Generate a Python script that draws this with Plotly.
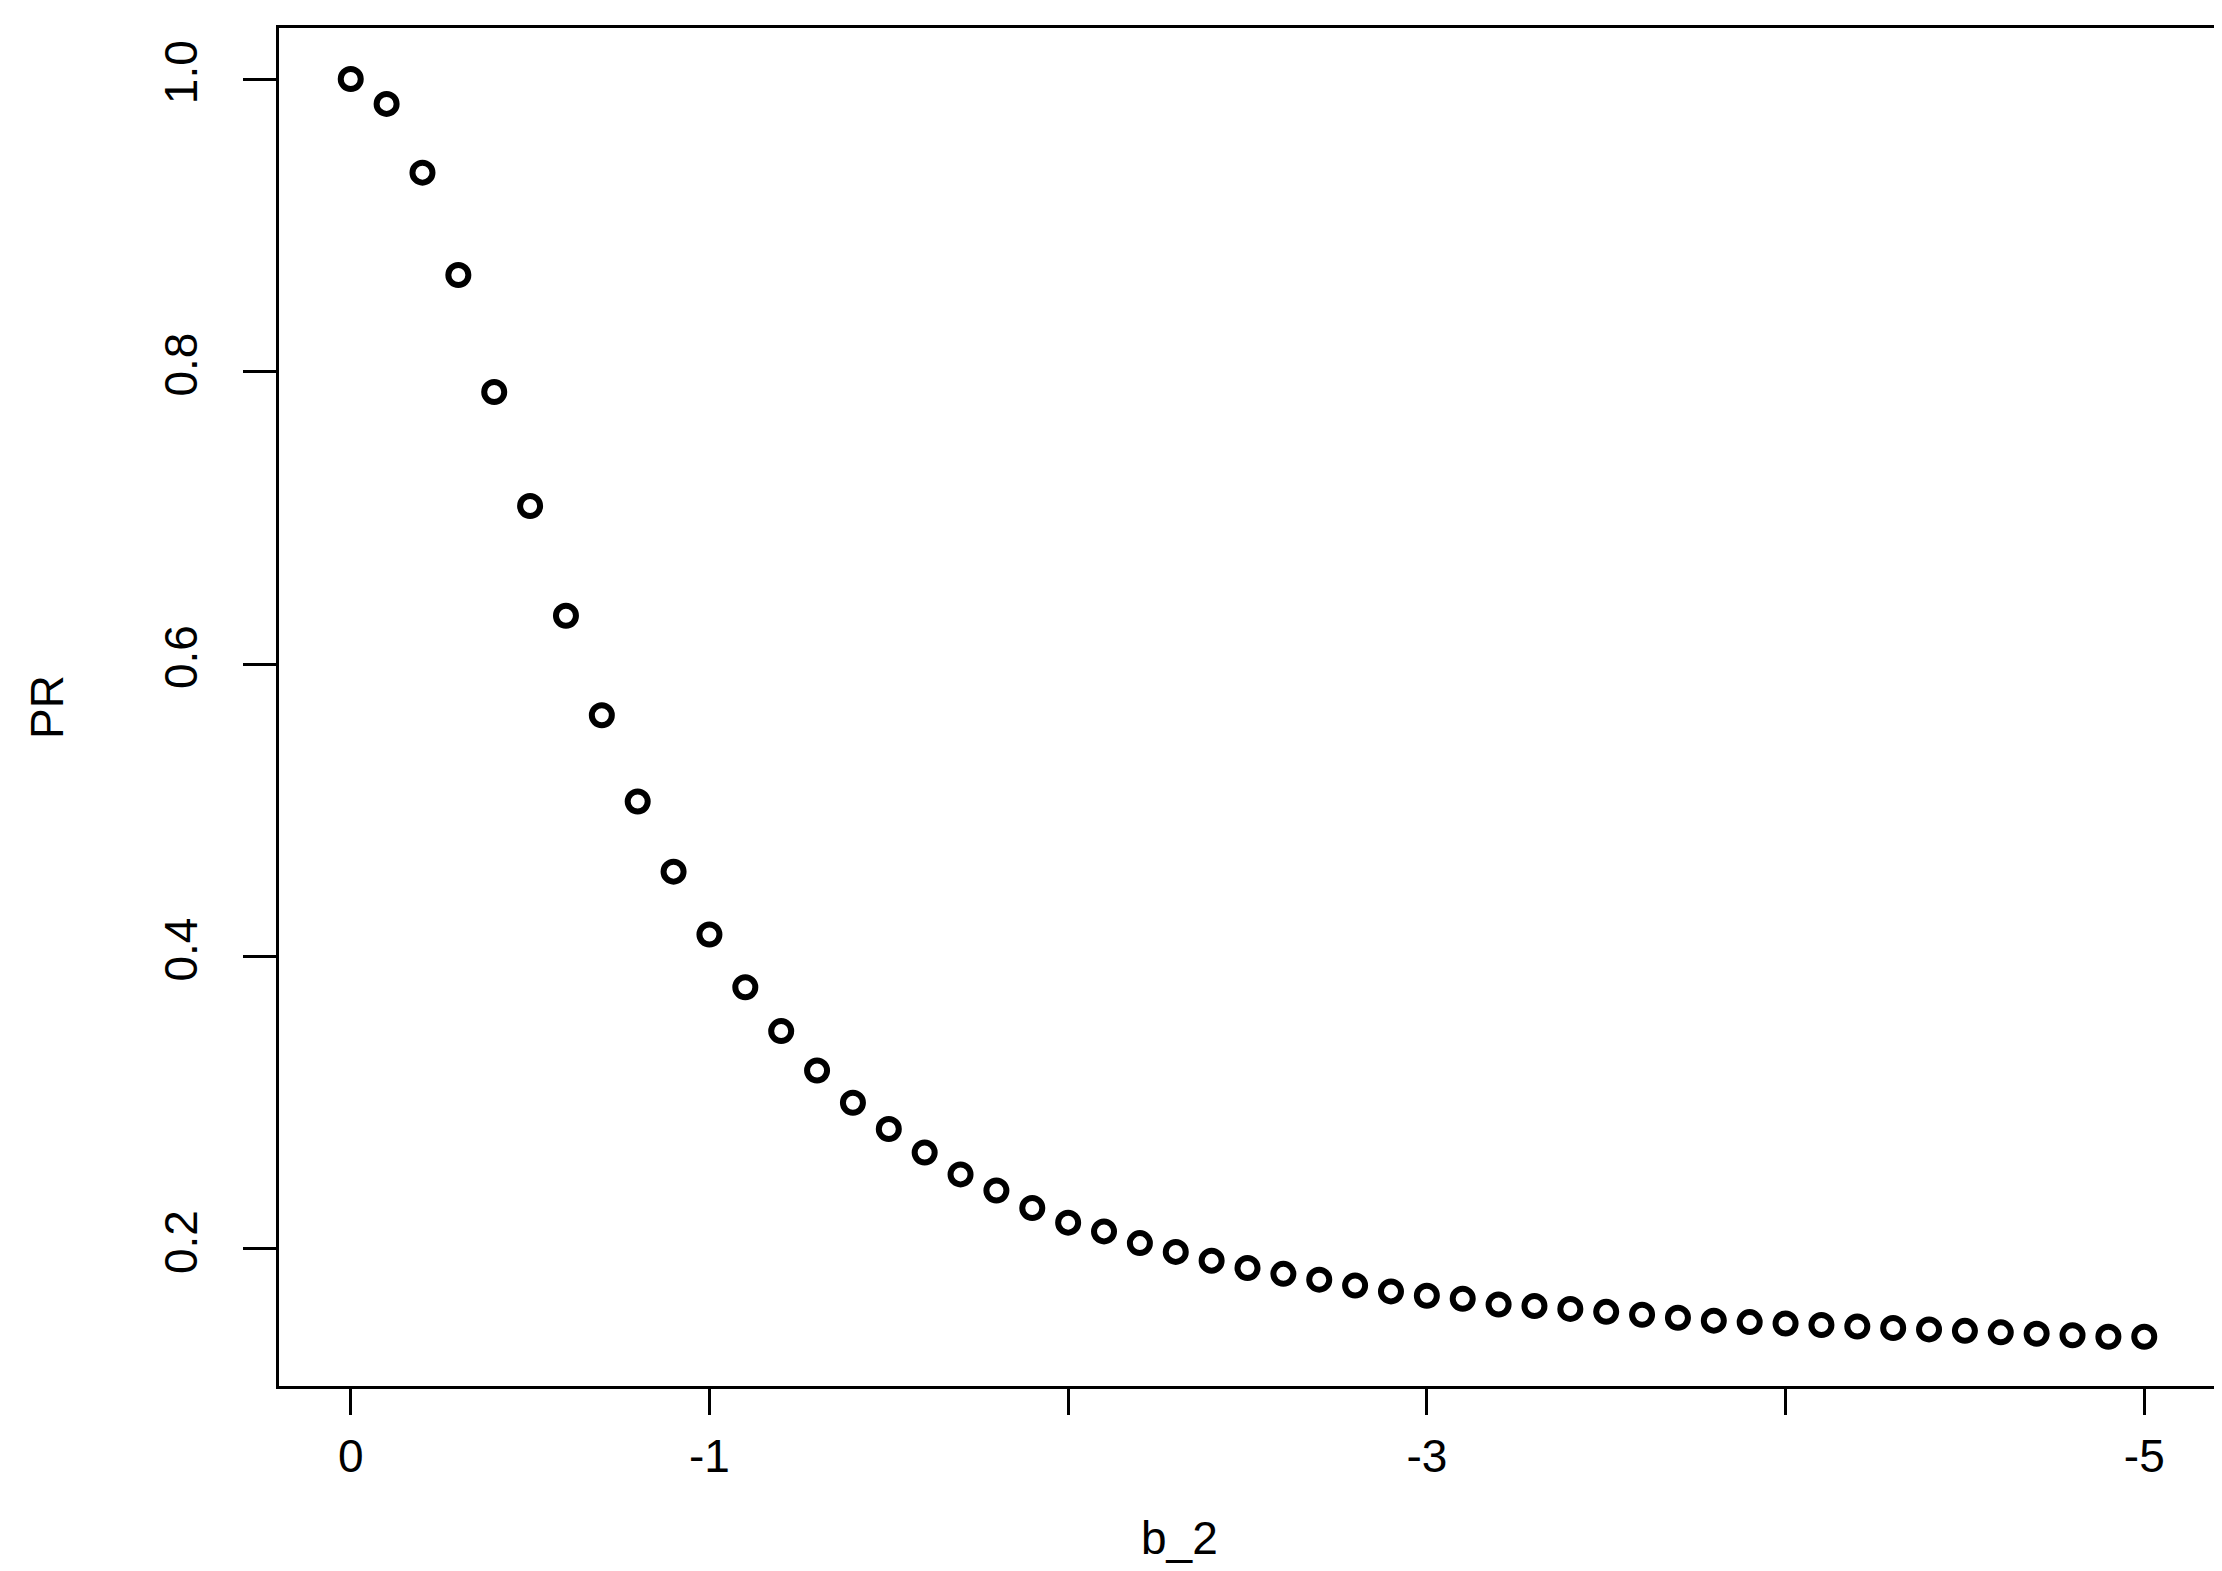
import plotly.graph_objects as go

b_2 = [round(-0.1 * i, 1) for i in range(51)]
PR = [1.000, 0.983, 0.936, 0.866, 0.786, 0.708, 0.633, 0.565, 0.506, 0.458,
      0.415, 0.379, 0.349, 0.322, 0.300, 0.282, 0.266, 0.251, 0.240, 0.228,
      0.218, 0.212, 0.204, 0.198, 0.192, 0.187, 0.183, 0.179, 0.175, 0.171,
      0.168, 0.166, 0.162, 0.161, 0.159, 0.157, 0.155, 0.153, 0.151, 0.150,
      0.149, 0.148, 0.147, 0.146, 0.145, 0.144, 0.143, 0.142, 0.141, 0.140,
      0.140]

x_tickvals = [0, -1, -2, -3, -4, -5]
x_ticktext = ["0", "-1", "", "-3", "", "-5"]
y_tickvals = [0.2, 0.4, 0.6, 0.8, 1.0]
y_ticktext = ["0.2", "0.4", "0.6", "0.8", "1.0"]

FONT = "Liberation Sans, Arial, sans-serif"

fig = go.Figure()
fig.add_trace(go.Scatter(
    x=b_2, y=PR, mode="markers",
    marker=dict(symbol="circle-open", size=20, color="black",
                line=dict(width=6, color="black")),
    showlegend=False,
))

fig.update_layout(
    width=2222, height=1571,
    margin=dict(l=271, r=14, t=20, b=193, autoexpand=False),
    paper_bgcolor="white", plot_bgcolor="white",
    font=dict(family=FONT, size=46, color="black"),
    xaxis=dict(
        range=[0.2, -5.2], tickvals=x_tickvals, ticktext=x_ticktext,
        ticks="outside", ticklen=26, tickwidth=2.5, tickcolor="black",
        showline=True, linecolor="black", linewidth=3, mirror=True,
        showgrid=False, zeroline=False, ticklabelstandoff=2,
        automargin=False, tickfont=dict(size=46),
    ),
    yaxis=dict(
        range=[0.1063, 1.0349], tickvals=y_tickvals, ticktext=y_ticktext,
        ticks="outside", ticklen=33, tickwidth=2.5, tickcolor="black",
        showline=True, linecolor="black", linewidth=3, mirror=True,
        showgrid=False, zeroline=False, tickangle=-90, ticklabelstandoff=28,
        automargin=False, tickfont=dict(size=46),
    ),
    annotations=[
        dict(text="b_2", xref="paper", yref="paper", x=0.465, y=-0.112,
             xanchor="center", yanchor="middle", showarrow=False,
             font=dict(size=46)),
        dict(text="PR", xref="paper", yref="paper", x=-0.1198, y=0.5,
             xanchor="center", yanchor="middle", showarrow=False,
             textangle=-90, font=dict(size=46)),
    ],
)

fig.write_html("out.html")
